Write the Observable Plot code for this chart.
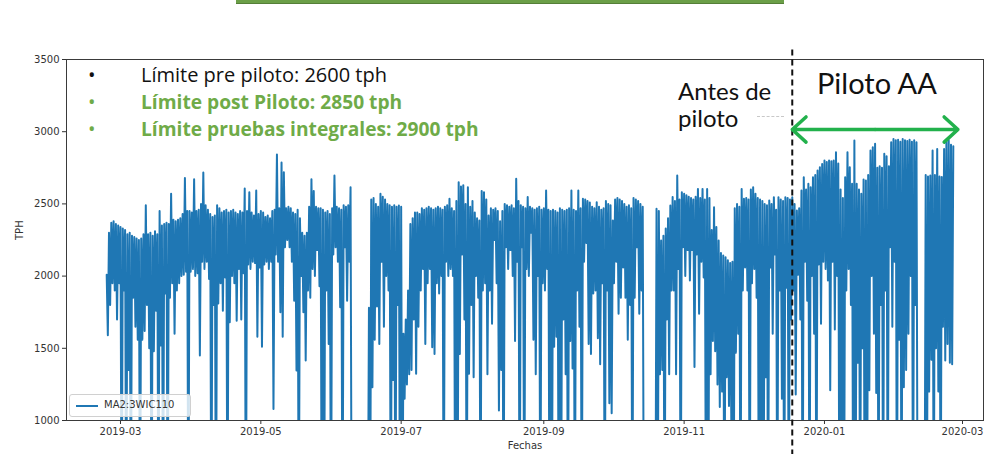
<!DOCTYPE html>
<html>
<head>
<meta charset="utf-8">
<script src="https://cdn.jsdelivr.net/npm/d3@7"></script>
<script src="https://cdn.jsdelivr.net/npm/@observablehq/plot@0.6"></script>
<style>
  body { margin: 0; background: #fff; }
  #wrap { position: relative; width: 984px; height: 454px; overflow: hidden; font-family: Lato, "Noto Sans", sans-serif; }
  #chart { position: absolute; left: 0; top: 0; }
  #chart svg { overflow: visible; }
  .topbar { position: absolute; left: 236px; top: 0; width: 548px; height: 3px; background: #6b9f48; border-bottom: 1px solid #557f38; }
  .note { position: absolute; font-family: "Open Sans", sans-serif; font-size: 20px; line-height: 22px; white-space: nowrap; }
  .bullet { position: absolute; font-family: "Open Sans", sans-serif; font-size: 20px; line-height: 22px; }
  .green { color: #6fab48; }
  .bold { font-weight: bold; font-size: 19.2px; }
  .ann { position: absolute; font-size: 24px; line-height: 26px; color: #111; white-space: nowrap; }
  .piloto { position: absolute; left: 817px; top: 66px; font-size: 29px; line-height: 33px; color: #111; white-space: nowrap; }
  .faint { position: absolute; left: 757px; top: 116px; width: 27px; border-top: 1px dashed #c8c8c8; }
  .legend { position: absolute; left: 69px; top: 394px; width: 120px; height: 21px; background: rgba(255,255,255,0.8);
            border: 1px solid #d0d0d0; border-radius: 3px; font-family: "DejaVu Sans", sans-serif; font-size: 10px; color: #333; }
  .legend .sw { position: absolute; left: 6px; top: 10px; width: 22px; height: 0; border-top: 2px solid #1f77b4; }
  .legend .lb { position: absolute; left: 34px; top: 4px; }
</style>
</head>
<body>
<div id="wrap">
  <div id="chart"></div>
  <div class="topbar"></div>
  <div class="bullet" style="left:88px;top:64px;color:#111">•</div>
  <div class="note" style="left:141px;top:64px;color:#111">Límite pre piloto: 2600 tph</div>
  <div class="bullet green" style="left:88px;top:91px">•</div>
  <div class="note green bold" style="left:141px;top:91px">Límite post Piloto: 2850 tph</div>
  <div class="bullet green" style="left:88px;top:118px">•</div>
  <div class="note green bold" style="left:141px;top:118px">Límite pruebas integrales: 2900 tph</div>
  <div class="ann" style="left:678px;top:78px">Antes de</div>
  <div class="ann" style="left:678px;top:105px">piloto</div>
  <div class="faint"></div>
  <div class="piloto">Piloto AA</div>
  <div class="legend"><div class="sw"></div><div class="lb">MA2:3WIC110</div></div>
</div>
<script>
// Conveyor throughput (TPH), two readings per day: daily high, then daily low.
// A 0 means the belt was stopped (the trace drops below the axis floor).
const feb2019 = [2010,1590, 2300,1800, 2370,1950, 2380,1900, 2360,1700, 2350,1950];
const mar2019 = [2340,0, 2330,1900, 2320,0, 2290,1350, 2300,0, 2280,1850, 2270,1650, 2260,1560, 2250,0, 2260,1560,
  2290,1620, 2490,1800, 2290,1500, 2300,0, 2280,1480, 2310,1760, 2290,0, 2450,1520, 2350,0, 2360,1880,
  2370,0, 2360,1850, 2570,1950, 2390,1600, 2380,1900, 2390,1950, 2400,2000, 2430,2010, 2680,2030, 2450,0, 2450,2030];
const apr2019 = [2440,2050, 2670,2000, 2450,2020, 2460,1450, 2500,2100, 2717,2050, 2490,2100, 2460,1980, 2430,0, 2410,1800,
  2420,0, 2490,1810, 2470,1950, 2440,1760, 2450,1990, 2460,0, 2440,1680, 2450,2000, 2460,1950, 2440,1690,
  2430,2050, 2450,1700, 2440,2020, 2607,0, 2450,2080, 2580,2050, 2440,2100, 2420,2090, 2593,1580, 2430,2060];
const may2019 = [2450,1510, 2440,2080, 2410,2100, 2420,2050, 2400,2100, 2450,1080, 2460,2150, 2842,2100, 2470,1750, 2787,1580,
  2720,2200, 2470,2250, 2480,2200, 2470,2100, 2440,1830, 2430,1346, 2460,0, 2400,2000, 2300,1750, 2280,1416,
  2300,1900, 2480,1850, 2670,2050, 2590,2000, 2480,2180, 2470,1930, 2470,0, 2460,0, 2440,1900, 2450,1530, 2430,0];
const jun2019 = [2470,2150, 2697,2200, 2480,2100, 2470,1785, 2460,0, 2490,2200, 2480,1830, 2490,2100, 2616,0, 0,0,
  0,0, 0,0, 0,0, 0,0, 0,0, 0,0, 1780,0, 2530,1230, 2540,1560, 2500,1790,
  2480,1530, 2570,2100, 2550,1650, 2530,2000, 2500,1900, 2490,0, 2480,1280, 2490,0, 2480,1800, 2489,0];
const jul2019 = [2480,0, 1600,1150, 1700,1250, 1900,1320, 2360,1350, 2400,1700, 2440,1323, 2440,1650, 2430,1900, 2470,2050,
  2460,1530, 2470,1950, 2480,2050, 2470,1508, 2460,1460, 2470,1950, 2480,1880, 2470,2000, 2460,0, 2480,2100,
  2490,2000, 2535,2050, 2470,2000, 2450,0, 2520,0, 2650,1460, 2620,2150, 2630,1700, 2500,0, 2616,1323, 2480,1800];
const aug2019 = [2520,1300, 2440,2000, 2400,1850, 2385,0, 2590,1900, 2580,1950, 2530,1320, 2420,1900, 2470,1670, 2460,2250,
  2470,1950, 2450,1070, 2380,1350, 2450,0, 2500,2200, 2490,2050, 2480,2180, 2490,2000, 2470,1550, 2674,2100,
  2520,0, 2490,2200, 2480,0, 2470,2050, 2547,2000, 2480,2300, 2470,1560, 2460,1320, 2470,2000, 2480,0, 2460,1950];
const sep2019 = [2470,1900, 2593,2050, 2460,0, 2450,0, 2460,1510, 2450,1580, 2440,0, 2470,0, 2460,1700, 2450,1320,
  2460,0, 2470,1550, 2593,1360, 2460,0, 2450,1900, 2593,1650, 2470,0, 2535,2100, 2530,2230, 2520,1530,
  2510,1460, 2480,1880, 2470,1900, 2512,1570, 2480,1390, 2460,1950, 2470,0, 2520,1900, 2500,1120, 2490,1050];
const oct2019 = [2385,1950, 2530,2100, 2540,1740, 2530,1850, 2520,2060, 2500,1850, 2480,1560, 2490,1800, 2470,0, 2540,1850,
  2530,2200, 2520,1740, 2500,1900, 2480,0, 0,0, 0,0, 0,0, 0,0, 0,0, 2466,0,
  2450,1320, 2247,1350, 2280,0, 2330,1700, 2400,1320, 2489,1900, 2547,1900, 2520,1320, 2697,2050, 2530,0, 2580,2200];
const nov2019 = [2570,2000, 2560,2180, 2550,1970, 2540,2180, 2530,1370, 2550,2150, 2604,1740, 2540,2100, 2604,1990, 2530,0,
  2604,0, 2540,1320, 2320,1550, 2477,1480, 2340,1250, 2247,1093, 2160,1200, 2143,0, 2130,1300, 2110,1100,
  2090,1000, 2100,0, 2470,1470, 2500,1600, 2480,0, 2604,1900, 2535,2060, 2540,1900, 2530,0, 2600,1950];
const dec2019 = [2616,2050, 2570,1850, 2540,0, 2530,0, 2520,0, 2500,1300, 2490,0, 2524,2060, 2500,1600, 2546,2150,
  2460,0, 2546,1900, 2530,1150, 2520,0, 2546,1920, 2540,0, 2530,1700, 2546,1900, 2500,1180, 2455,2010,
  2470,1700, 2593,0, 2685,2100, 2600,1830, 2639,0, 2616,2000, 2685,1600, 2700,0, 2731,2080, 2754,1670, 2777,2100];
const jan2020 = [2800,2050, 2790,1970, 2800,1210, 2795,2100, 2800,1630, 2858,2000, 2780,0, 2600,0, 2540,0, 2685,1900,
  2858,2050, 2754,1800, 2640,0, 2939,0, 2639,1400, 2600,0, 2570,1500, 2669,0, 2662,0, 2700,1210,
  2870,2000, 2893,1600, 2916,1190, 2750,0, 2760,1800, 2750,0, 2847,1900, 2830,0, 2760,2200, 2927,1650, 2950,2100];
const feb2020 = [2940,0, 2945,1560, 2930,0, 2950,1230, 2940,1350, 2935,1600, 2945,2000, 2930,0, 2940,1800, 2927,0,
  0,0, 0,0, 0,0, 2700,0, 2690,1200, 2697,1420, 2870,0, 2700,1500, 2881,1200, 2690,0,
  2686,1650, 2880,1416, 2930,1530, 2940,1400, 2910,1390, 2900];

// First day covered by each block of readings
const blockStarts = ["2019-02-23", "2019-03-01", "2019-04-01", "2019-05-01", "2019-06-01", "2019-07-01", "2019-08-01",
  "2019-09-01", "2019-10-01", "2019-11-01", "2019-12-01", "2020-01-01", "2020-02-01"];
const blocks = [feb2019, mar2019, apr2019, may2019, jun2019, jul2019, aug2019, sep2019, oct2019, nov2019, dec2019, jan2020, feb2020];

// Axis ticks
const xTickLabels = ["2019-03", "2019-05", "2019-07", "2019-09", "2019-11", "2020-01", "2020-03"];
const yTicks = [1000, 1500, 2000, 2500, 3000, 3500];

// Pilot period markers
const pilotStart = "2019-12-18";
const pilotEnd = "2020-02-28";
const pilotArrowLevel = 3015;
const dividerSpan = [3565, 760];

const parseDay = d3.utcParse("%Y-%m-%d");
const parseMonth = d3.utcParse("%Y-%m");
const HALF_DAY = 12 * 3600 * 1000;

const rows = [];
blocks.forEach((vals, b) => {
  const t0 = +parseDay(blockStarts[b]);
  vals.forEach((v, i) => rows.push({date: new Date(t0 + i * HALF_DAY), tph: v}));
});

const p0 = parseDay(pilotStart), p1 = parseDay(pilotEnd);
const pMid = new Date((+p0 + +p1) / 2);

const chart = Plot.plot({
  width: 984,
  height: 454,
  marginTop: 59,
  marginBottom: 34,
  marginLeft: 66,
  marginRight: 1,
  style: {fontFamily: "'DejaVu Sans', sans-serif", fontSize: "10px", color: "#333", background: "transparent"},
  x: {
    type: "utc",
    domain: [new Date(Date.UTC(2019, 1, 5, 12, 43)), new Date(Date.UTC(2020, 2, 10, 3))],
    ticks: xTickLabels.map(parseMonth),
    tickFormat: d3.utcFormat("%Y-%m"),
    tickSize: 4,
    tickPadding: 3,
    label: null
  },
  y: {domain: [1000, 3500], ticks: yTicks, tickFormat: d => String(d), tickSize: 4, tickPadding: 3, label: null},
  marks: [
    Plot.line(rows, {x: "date", y: "tph", stroke: "#1f77b4", strokeWidth: 2, clip: true}),
    Plot.frame({stroke: "#3a3a3a"}),
    Plot.ruleX([p0], {x: d => d, y1: () => dividerSpan[0], y2: () => dividerSpan[1],
      stroke: "#111", strokeWidth: 2, strokeDasharray: "6,4"}),
    Plot.arrow([{a: pMid, b: p0}, {a: pMid, b: p1}], {
      x1: "a", x2: "b", y1: () => pilotArrowLevel, y2: () => pilotArrowLevel,
      stroke: "#22b14c", strokeWidth: 3.5, headLength: 8, headAngle: 85
    }),
    Plot.text(["Fechas"], {frameAnchor: "bottom", dy: 28, fontSize: 10, fill: "#333"}),
    Plot.text(["TPH"], {frameAnchor: "left", dx: -47, rotate: -90, fontSize: 10, fill: "#333"})
  ]
});

document.getElementById("chart").append(chart);
</script>
</body>
</html>
